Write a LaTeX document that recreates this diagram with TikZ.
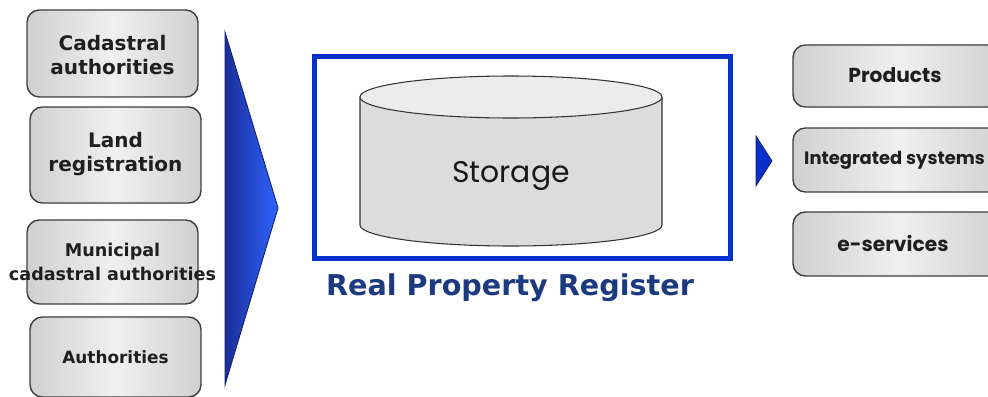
\documentclass[tikz,border=0pt]{standalone}
\usepackage{fontspec}
\newfontfamily\verd{DejaVu Sans}
\newfontfamily\goth{Poppins}
\definecolor{boxedge}{HTML}{3C3C3C}
\definecolor{boxlight}{HTML}{F0F0F0}
\definecolor{boxdark}{HTML}{D0D0D0}
\definecolor{frameblue}{HTML}{0530CC}
\definecolor{navy}{HTML}{1C3A80}
\definecolor{tridark}{HTML}{1A2E99}
\definecolor{tribright}{HTML}{2F63FF}
\definecolor{cylbody}{HTML}{DCDCDC}
\definecolor{cyltop}{HTML}{ECECEC}
\tikzset{
  grbox/.style={draw=boxedge, line width=0.8pt, rounded corners=7pt,
    left color=boxdark, right color=boxdark, middle color=boxlight,
    minimum width=3.42cm, inner sep=0pt},
  ltext/.style={font=\verd\bfseries\fontsize{11.4}{13.6}\selectfont, align=center, text=black!88},
  rtext/.style={font=\goth\bfseries\fontsize{11.5}{14}\selectfont, align=center, text=black!88},
}
\begin{document}
\begin{tikzpicture}[x=0.02cm, y=-0.02cm]
\useasboundingbox (0,0) rectangle (988,396);
\clip (0,0) rectangle (988,396);
\fill[white] (0,0) rectangle (988,396);
% left boxes
\node[grbox, minimum height=1.74cm] (b1) at (112.5,53.5) {};
\node[grbox, minimum height=1.92cm] (b2) at (115.5,155) {};
\node[grbox, minimum height=1.68cm] (b3) at (112.5,262) {};
\node[grbox, minimum height=1.60cm] (b4) at (115.5,357) {};
\node[ltext] (t1) at (112.5,55) {Cadastral\\authorities};
\node[ltext] (t2) at (115.5,154) {Land\\registration};
\node[ltext, font=\verd\bfseries\fontsize{10}{13.6}\selectfont] (t3) at (112.5,262) {Municipal\\cadastral authorities};
\node[ltext, font=\verd\bfseries\fontsize{9.6}{12}\selectfont] (t4) at (115.5,357) {Authorities};
% big triangle
\path[draw=tridark!70!black, line width=0.5pt, left color=tridark, right color=tribright]
  (225,32) -- (278,208) -- (225,385) -- cycle;
% frame
\draw[frameblue, line width=2.8pt] (314.5,56.5) rectangle (730.5,258.5);
% cylinder
\path[fill=cylbody, draw=black!80, line width=0.6pt]
  (360,97) -- (360,225) arc[start angle=180, end angle=0, x radius=151, y radius=21]
  -- (662,97);
\draw[fill=cyltop, draw=black!80, line width=0.6pt] (511,97) ellipse [x radius=151, y radius=21];
\node[font=\goth\fontsize{17}{20}\selectfont, text=black!90] (st) at (511,176) {Storage};
\node[font=\verd\bfseries\fontsize{16.3}{19}\selectfont, text=navy] (title) at (510,288) {Real Property Register};
% small triangle
\path[fill=frameblue, draw=tridark!60!black, line width=0.4pt] (756,136) -- (772,161) -- (756,186) -- cycle;
% right boxes
\node[grbox, minimum width=4.24cm, minimum height=1.24cm] (r1) at (899,76) {};
\node[grbox, minimum width=4.24cm, minimum height=1.28cm] (r2) at (899,160) {};
\node[grbox, minimum width=4.24cm, minimum height=1.28cm] (r3) at (899,244) {};
\node[rtext] (p1) at (895,75) {Products};
\node[rtext, anchor=west, font=\goth\bfseries\fontsize{10.2}{14}\selectfont] (p2) at (798,160) {Integrated systems};
\node[rtext] (p3) at (893,243) {e-services};
\end{tikzpicture}
\end{document}
